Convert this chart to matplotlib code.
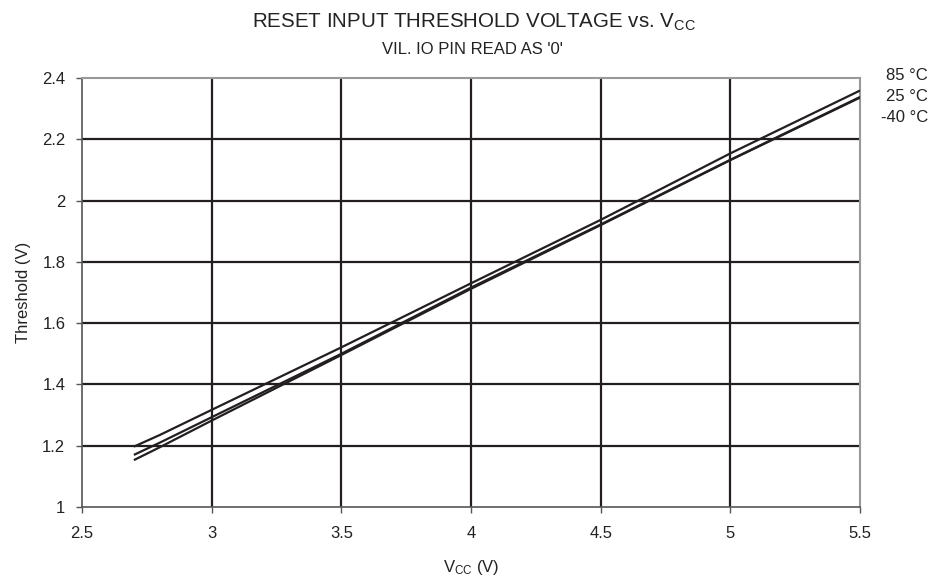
import matplotlib.pyplot as plt

plt.rcParams['font.family'] = ['Liberation Sans', 'DejaVu Sans']
plt.rcParams['mathtext.default'] = 'regular'

# supply voltage points and threshold readings per temperature
vcc = [2.7, 2.8, 3.0, 3.5, 4.0, 4.5, 5.0, 5.5]
th_85 = [1.197, 1.235, 1.317, 1.521, 1.730, 1.937, 2.154, 2.359]
th_25 = [1.170, 1.210, 1.293, 1.500, 1.716, 1.922, 2.133, 2.338]
th_m40 = [1.153, 1.195, 1.282, 1.496, 1.712, 1.920, 2.132, 2.336]
temp_labels = ['85 °C', '25 °C', '-40 °C']

xticks = [2.5, 3, 3.5, 4, 4.5, 5, 5.5]
yticks = [1, 1.2, 1.4, 1.6, 1.8, 2, 2.2, 2.4]

fig = plt.figure(figsize=(9.43, 5.84), dpi=100)
ax = fig.add_axes([82 / 943, 1 - 507 / 584, 778 / 943, 429 / 584])

line_col = '#231f20'
text_col = '#222222'
for y in (th_85, th_25, th_m40):
    ax.plot(vcc, y, color=line_col, lw=1.6, solid_capstyle='butt', zorder=3)

ax.set_xlim(2.5, 5.5)
ax.set_ylim(1, 2.4)
ax.set_xticks(xticks)
ax.set_xticklabels(['2.5', '3', '3.5', '4', '4.5', '5', '5.5'])
ax.set_yticks(yticks)
ax.set_yticklabels(['1', '1.2', '1.4', '1.6', '1.8', '2', '2.2', '2.4'])

# grid drawn as explicit lines so the limits stay as spines
for x in xticks[1:-1]:
    ax.axvline(x, color=line_col, lw=1.6, zorder=1)
for y in yticks[1:-1]:
    ax.axhline(y, color=line_col, lw=1.6, zorder=1)

for side in ('left', 'bottom'):
    ax.spines[side].set_color('#555555')
    ax.spines[side].set_linewidth(1.2)
for side in ('top', 'right'):
    ax.spines[side].set_color('#999999')
    ax.spines[side].set_linewidth(1.5)

ax.tick_params(direction='out', length=4, width=1, color='#555555',
               labelsize=12, labelcolor=text_col)
ax.tick_params(axis='x', pad=10)
ax.tick_params(axis='y', pad=8)

ax.set_ylabel('Threshold (V)', fontsize=12, color=text_col, labelpad=8)
ax.set_xlabel('V$_{CC}$ (V)', fontsize=12, color=text_col, labelpad=12)

fig.text(474 / 943, 1 - 22 / 584, 'RESET INPUT THRESHOLD VOLTAGE vs. V$_{CC}$',
         ha='center', va='center', fontsize=14.8, color=text_col)
fig.text(472 / 943, 1 - 50 / 584, "VIL. IO PIN READ AS '0'",
         ha='center', va='center', fontsize=12, color=text_col)

for i, lab in enumerate(temp_labels):
    fig.text(928 / 943, 1 - (76 + i * 20.5) / 584, lab, ha='right', va='center',
             fontsize=12, color=text_col)

fig.savefig('out.png', dpi=100)
